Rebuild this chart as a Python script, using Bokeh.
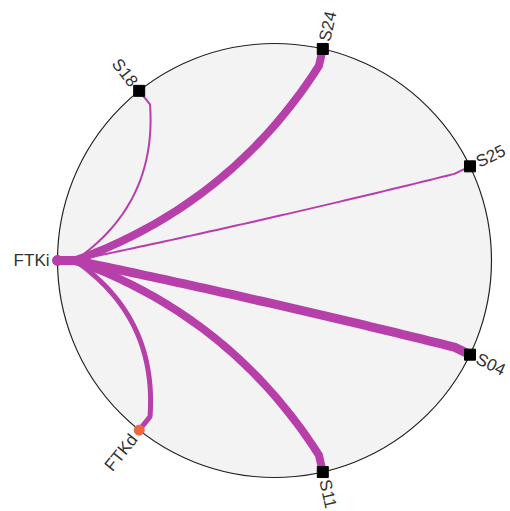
import numpy as np
from bokeh.plotting import figure
from bokeh.models import Range1d, ColumnDataSource
from bokeh.core.properties import value
from bokeh.embed import file_html
from bokeh.resources import INLINE

# ---- data ----
nodes = ["FTKi", "S18", "S24", "S25", "S04", "S11", "FTKd"]
node_kind = ["source", "site", "site", "site", "site", "site", "target"]
edge_source = ["FTKi", "FTKi", "FTKi", "FTKi", "FTKi", "FTKi"]
edge_target = ["S18", "S24", "S25", "S04", "S11", "FTKd"]
edge_weight = [1, 7, 1, 8, 7, 4]

# ---- layout ----
W, H = 510, 511
CX, CY, R = 274.0, 251.0, 217.0
INNER = 0.92
EDGE_COLOR = "#B73FA9"

n = len(nodes)
theta = {nm: np.pi - i * 2 * np.pi / n for i, nm in enumerate(nodes)}
pos = {nm: (CX + R * np.cos(t), CY + R * np.sin(t)) for nm, t in theta.items()}
inner = {nm: (CX + INNER * R * np.cos(t), CY + INNER * R * np.sin(t)) for nm, t in theta.items()}

p = figure(width=W, height=H, output_backend="svg", toolbar_location=None,
           x_range=Range1d(0, W), y_range=Range1d(0, H), min_border=0)
p.axis.visible = False
p.grid.visible = False
p.outline_line_color = None
p.background_fill_color = "white"
p.border_fill_color = "white"

# background disc
p.circle(x=[CX], y=[CY], radius=R, fill_color="#F3F3F3", line_color="#222222", line_width=1.2)

# edges (quadratic curves bowing towards the centre)
xs, ys, widths = [], [], []
tt = np.linspace(0, 1, 60)
for s, t, w in zip(edge_source, edge_target, edge_weight):
    p0 = np.array(inner[s]); p2 = np.array(inner[t])
    mid = (p0 + p2) / 2
    span = abs(((theta[t] - theta[s] + np.pi) % (2 * np.pi)) - np.pi)
    k = 0.45 * np.sin(span) ** 2
    c = mid + k * (np.array([CX, CY]) - mid)
    bx = (1 - tt) ** 2 * p0[0] + 2 * (1 - tt) * tt * c[0] + tt ** 2 * p2[0]
    by = (1 - tt) ** 2 * p0[1] + 2 * (1 - tt) * tt * c[1] + tt ** 2 * p2[1]
    xs.append([pos[s][0]] + list(bx) + [pos[t][0]])
    ys.append([pos[s][1]] + list(by) + [pos[t][1]])
    widths.append(1.0 + w * 1.0)
p.multi_line(xs="xs", ys="ys", line_width="w",
             source=ColumnDataSource(dict(xs=xs, ys=ys, w=widths)),
             line_color=EDGE_COLOR, line_join="round", line_cap="round")

# nodes
sq = [nm for nm, k in zip(nodes, node_kind) if k == "site"]
p.scatter(x=[pos[nm][0] for nm in sq], y=[pos[nm][1] for nm in sq], marker="square",
          size=11, fill_color="black", line_color="black")
src = [nm for nm, k in zip(nodes, node_kind) if k == "source"]
p.scatter(x=[pos[nm][0] for nm in src], y=[pos[nm][1] for nm in src], marker="circle",
          size=10, fill_color=EDGE_COLOR, line_color=EDGE_COLOR)
tgt = [nm for nm, k in zip(nodes, node_kind) if k == "target"]
p.scatter(x=[pos[nm][0] for nm in tgt], y=[pos[nm][1] for nm in tgt], marker="circle",
          size=10, fill_color="#EE6744", line_color="#EE6744")

# labels
LOFF = 8
right = dict(x=[], y=[], t=[], a=[])
left = dict(x=[], y=[], t=[], a=[])
for nm in nodes:
    th = theta[nm]
    lx = CX + (R + LOFF) * np.cos(th)
    ly = CY + (R + LOFF) * np.sin(th)
    if np.cos(th) >= 0:
        right["x"].append(lx); right["y"].append(ly); right["t"].append(nm); right["a"].append(th)
    else:
        left["x"].append(lx); left["y"].append(ly); left["t"].append(nm); left["a"].append(th - np.pi)
for d, al in ((right, "left"), (left, "right")):
    p.text(x="x", y="y", text="t", angle="a", source=ColumnDataSource(d),
           text_align=al, text_baseline="middle", text_font=value("Liberation Sans"),
           text_font_size="17px", text_color="#333333")

open("out.html", "w").write(file_html(p, INLINE))
